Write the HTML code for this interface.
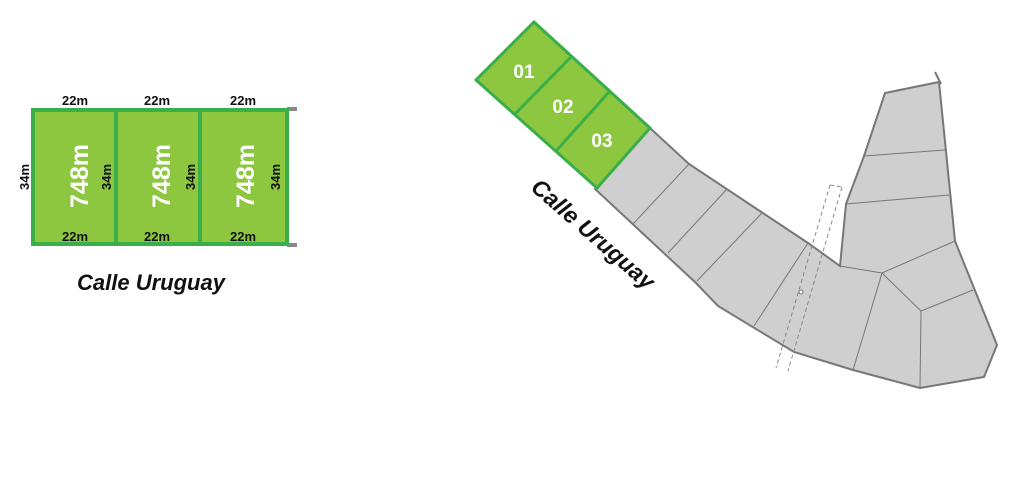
<!DOCTYPE html>
<html><head><style>
body{margin:0;background:#fff;width:1024px;height:474px;overflow:hidden;font-family:"Liberation Sans",sans-serif}
</style></head><body>
<svg width="1024" height="474" viewBox="0 0 1024 474" xmlns="http://www.w3.org/2000/svg" font-family="Liberation Sans, sans-serif">
<!-- left plan -->
<rect x="287" y="107" width="10" height="4" fill="#888"/>
<rect x="287" y="243" width="10" height="4" fill="#888"/>
<rect x="33" y="110" width="254" height="134" fill="#8dc63f" stroke="#3aae49" stroke-width="4"/>
<line x1="116" y1="110" x2="116" y2="244" stroke="#3aae49" stroke-width="4"/>
<line x1="200" y1="110" x2="200" y2="244" stroke="#3aae49" stroke-width="4"/>
<g font-weight="bold" font-size="13" fill="#111" text-anchor="middle">
<text x="75" y="105">22m</text><text x="157" y="105">22m</text><text x="243" y="105">22m</text>
<text x="75" y="241">22m</text><text x="157" y="241">22m</text><text x="243" y="241">22m</text>
<text transform="translate(29,177) rotate(-90)">34m</text>
<text transform="translate(111,177) rotate(-90)">34m</text>
<text transform="translate(195,177) rotate(-90)">34m</text>
<text transform="translate(280,177) rotate(-90)">34m</text>
</g>
<g font-weight="bold" font-size="25" fill="#fff" text-anchor="middle">
<text transform="translate(88,176) rotate(-90)">748m</text>
<text transform="translate(170,176) rotate(-90)">748m</text>
<text transform="translate(254,176) rotate(-90)">748m</text>
</g>
<text x="151" y="290" font-size="22" font-weight="bold" font-style="italic" text-anchor="middle" fill="#111">Calle Uruguay</text>

<!-- right map -->
<polygon points="595,189 650,128 689,164 808,243 840,266 846,204 864,156 885,93 939,82 955,241 997,345 984,377 920,388 853,370 794,352 718,306 696,283" fill="#cfcfcf" stroke="#777" stroke-width="2"/>
<line x1="935" y1="72" x2="941" y2="84" stroke="#777" stroke-width="2"/>
<g stroke="#777" stroke-width="1" fill="none">
<line x1="689" y1="164" x2="633" y2="224"/>
<line x1="727" y1="189" x2="668" y2="253"/>
<line x1="762" y1="213" x2="697" y2="281"/>
<line x1="808" y1="243" x2="754" y2="326"/>
<polyline points="840,266 882,273 853,370"/>
<polyline points="882,273 921,311 920,388"/>
<line x1="921" y1="311" x2="973" y2="290"/>
<line x1="882" y1="273" x2="955" y2="241"/>
<line x1="846" y1="204" x2="949" y2="195"/>
<line x1="864" y1="156" x2="945" y2="150"/>
</g>
<g stroke="#888" stroke-width="1" fill="none" stroke-dasharray="4,3">
<line x1="830" y1="185" x2="776" y2="368"/>
<line x1="842" y1="187" x2="788" y2="371"/>
<line x1="830" y1="185" x2="842" y2="187"/>
</g>
<circle cx="801" cy="292" r="2" fill="#fff" stroke="#777"/>
<polygon points="534,22 650,128 597,188 476,80" fill="#8dc63f" stroke="#3aae49" stroke-width="3"/>
<line x1="571" y1="57" x2="515" y2="114" stroke="#3aae49" stroke-width="3"/>
<line x1="609" y1="92" x2="556" y2="151" stroke="#3aae49" stroke-width="3"/>
<g font-weight="bold" font-size="19" fill="#fff" text-anchor="middle">
<text x="524" y="78">01</text><text x="563" y="113">02</text><text x="602" y="147">03</text>
</g>
<text transform="translate(588,240) rotate(41)" font-size="23" font-weight="bold" font-style="italic" text-anchor="middle" fill="#111">Calle Uruguay</text>
</svg>
</body></html>
